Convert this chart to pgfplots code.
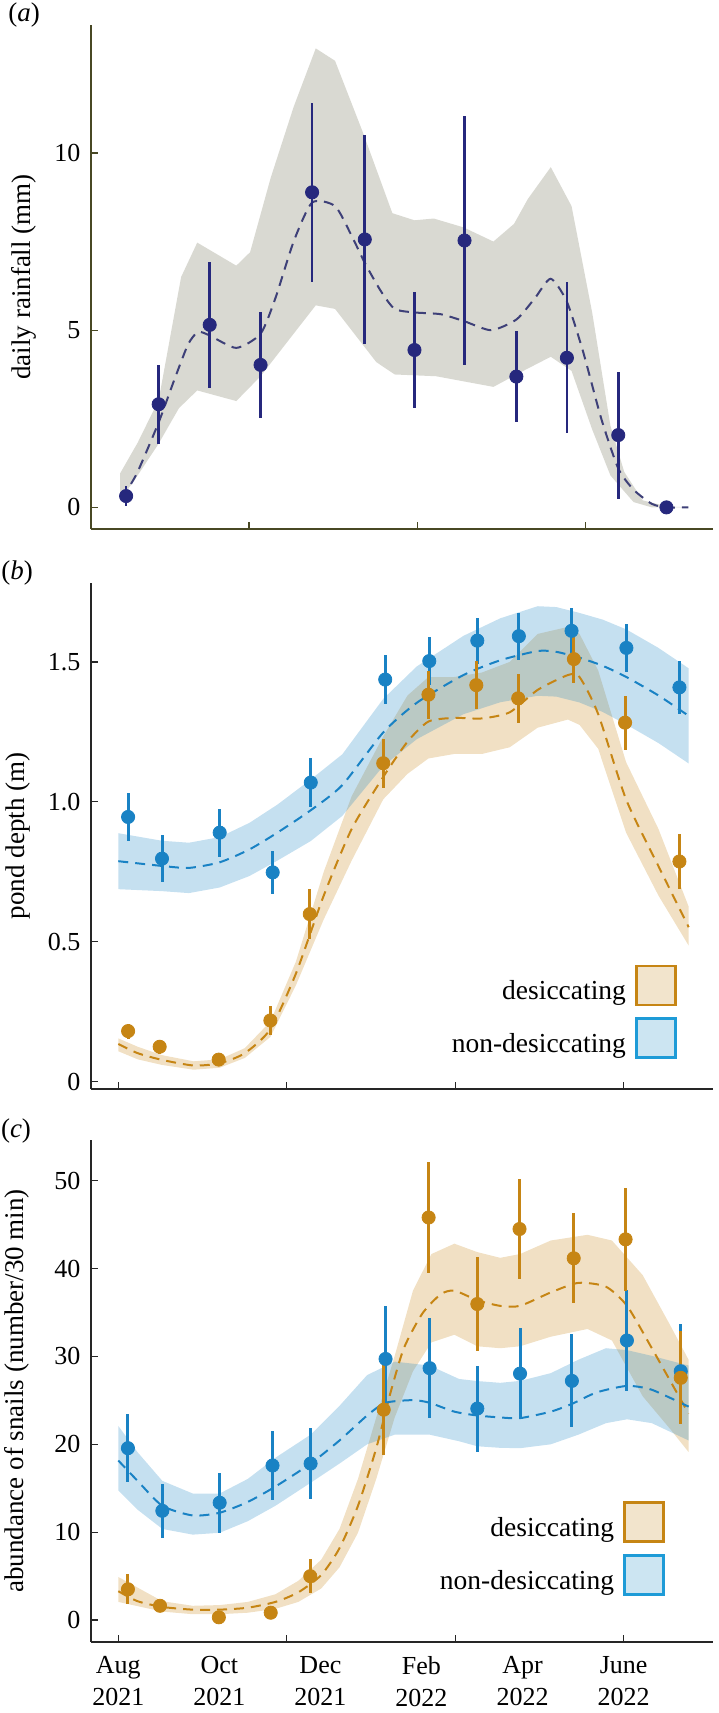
\documentclass[border=0pt]{standalone}
\usepackage{fontspec}
\setmainfont{Liberation Serif}
\usepackage{pgfplots}
\pgfplotsset{compat=1.18}
\usepgfplotslibrary{fillbetween}
\definecolor{navy}{RGB}{38,40,125}
\definecolor{navydash}{RGB}{62,64,120}
\definecolor{bandgray}{RGB}{217,217,210}
\definecolor{olive}{RGB}{72,72,36}
\definecolor{bluec}{RGB}{25,130,196}
\definecolor{brownc}{RGB}{198,133,20}
\definecolor{bluebox}{RGB}{30,155,215}
\definecolor{bluel}{RGB}{204,229,242}
\definecolor{brownl}{RGB}{242,228,204}
\pgfplotsset{
  panel/.style={
    scale only axis, width=311.15pt,
    xmin=-16.6, xmax=357.8,
    axis lines*=left, axis line style={-, line width=0.9pt},
    tick align=inside, major tick length=3.5pt,
    tick style={line width=0.6pt},
    enlargelimits=false,
    ticklabel style={font=\fontsize{13}{16}\selectfont},
    yticklabel style={inner sep=0pt, xshift=-5pt},
    ylabel style={font=\fontsize{13.5}{16}\selectfont, anchor=center, inner sep=0pt},
    /pgf/number format/assume math mode=true,
    legend style={draw=none, fill=none, inner sep=0pt, column sep=4.5pt, row sep=5.5pt,
      font=\fontsize{13.75}{16}\selectfont, nodes={inner sep=0pt}},
    legend cell align=right, legend plot pos=right,
  },
  dsh/.style={dash pattern=on 5pt off 3.5pt, line width=1pt},
  pts/.style={only marks, mark=*, mark size=3.3pt, forget plot,
    error bars/y dir=both, error bars/y explicit, error bars/error mark=none,
    error bars/error bar style={line width=1.5pt}},
}
\begin{document}
\begin{tikzpicture}
\path (0,0) rectangle (359pt,-856.5pt);
\node[font=\fontsize{13.5}{16}\selectfont, inner sep=0pt] at (12pt,-7.5pt) {(\textit{a})};
\node[font=\fontsize{13.5}{16}\selectfont, inner sep=0pt] at (8.5pt,-286.5pt) {(\textit{b})};
\node[font=\fontsize{13.5}{16}\selectfont, inner sep=0pt] at (8pt,-565.5pt) {(\textit{c})};

% ---------------- (a)
\begin{axis}[panel, at={(45.35pt,-264.5pt)}, anchor=south west, height=252pt,
  ymin=-0.61, ymax=13.61,
  axis line style={draw=olive}, tick style={draw=olive},
  xtick={78.6,179.9,281.2}, xticklabels={,,},
  ytick={0,5,10}, yticklabels={0,5,10},
  ylabel={daily rainfall (mm)},
  ylabel style={at={(axis description cs:-0.107,0.5)}}]
\addplot[name path=aU, draw=none, forget plot] coordinates {
(1.1,0.96)(11.6,1.82)(24.3,3.03)(37.8,6.5)(47.5,7.47)(71,6.82)(79.3,7.2)(91.7,9.3)(105.5,11.3)(118.8,12.95)(130.4,12.6)(147,10.6)(164.9,8.3)(178.2,8.1)(189.8,8.15)(207.7,7.9)(225.7,7.5)(238.1,8.0)(246.4,8.7)(260.2,9.6)(272.7,8.5)(285.1,5.5)(296.1,2.3)(304.4,1.0)(315.5,0.2)(329.8,0.03)(343.1,0)};
\addplot[name path=aL, draw=none, forget plot] coordinates {
(1.1,0.2)(11.6,0.9)(24.3,1.8)(36.5,2.8)(47.5,3.3)(71,3.0)(85.6,3.7)(105.5,4.9)(118.8,5.7)(130.4,5.6)(155.2,4.1)(166.3,3.75)(191.2,3.7)(225.7,3.4)(243.6,3.85)(260.2,4.25)(272.7,3.85)(285.1,2.2)(296.1,0.9)(310,0.15)(321,0)(343.1,0)};
\addplot[fill=bandgray, draw=none, forget plot] fill between[of=aU and aL];
\addplot[dsh, navydash, smooth, tension=0.4, forget plot] coordinates {
(1.1,0.3)(4.7,0.45)(11.6,1.0)(24.3,2.4)(33.7,3.6)(42,4.6)(48,4.95)(55,4.85)(71,4.5)(85.6,4.9)(94.5,5.9)(105.5,7.5)(116.6,8.6)(130.4,8.5)(140,7.7)(148.3,6.9)(158,6.1)(166.3,5.6)(178.2,5.5)(194,5.45)(208.3,5.25)(224.3,5.0)(239.5,5.3)(250.6,5.9)(260.2,6.45)(269.9,5.8)(279.6,4.4)(290.6,2.5)(300.8,1.1)(310,0.5)(321,0.1)(329.8,0.0)(343,0.0)};
\addplot[navy, pts, error bars/error bar style={line width=1.3pt}] coordinates {
(4.7,0.32) +- (0,0.28)
(24.3,2.91) +- (0,1.12)
(55,5.15) +- (0,1.78)
(85.6,4.02) +- (0,1.5)
(116.6,8.89) +- (0,2.52)
(148.3,7.56) +- (0,2.94)
(178.2,4.44) +- (0,1.64)
(208.3,7.53) +- (0,3.52)
(239.5,3.69) +- (0,1.28)
(269.9,4.22) +- (0,2.13)
(300.8,2.04) +- (0,1.79)
(329.8,0.0) +- (0,0)};
\end{axis}

% ---------------- (b)
\begin{axis}[panel, at={(45.35pt,-544.5pt)}, anchor=south west, height=253.15pt,
  ymin=-0.026, ymax=1.783,
  axis line style={draw=black!85}, tick style={draw=black!85},
  xtick={0,101.33,202.67,304}, xticklabels={,,,},
  ytick={0,0.5,1.0,1.5}, yticklabels={0,0.5,1.0,1.5},
  ylabel={pond depth (m)},
  ylabel style={at={(axis description cs:-0.117,0.5)}},
  legend style={at={(rel axis cs:0.942,0.059)}, anchor=south east}]
\addplot[name path=bbU, draw=none, forget plot] coordinates {
(0,0.155)(11.7,0.125)(26.3,0.095)(45.3,0.073)(61,0.08)(76.1,0.12)(91.5,0.215)(106.9,0.43)(123.6,0.75)(140.4,1.02)(159.4,1.234)(174,1.38)(186.6,1.446)(202,1.446)(218.7,1.462)(235.5,1.50)(252.3,1.60)(270.5,1.625)(277.5,1.60)(288.7,1.47)(305.5,1.142)(325,0.903)(343.2,0.625)};
\addplot[name path=bbL, draw=none, forget plot] coordinates {
(0,0.109)(11.7,0.08)(26.3,0.06)(45.3,0.043)(61,0.05)(76.1,0.085)(91.5,0.16)(106.9,0.345)(123.6,0.58)(140.4,0.79)(159.4,1.009)(174,1.10)(186.6,1.155)(202,1.171)(218.7,1.171)(235.5,1.195)(252.3,1.265)(270.5,1.294)(277.5,1.275)(288.7,1.19)(305.5,0.89)(325,0.665)(343.2,0.486)};
\addplot[fill=brownc, fill opacity=0.25, draw=none, forget plot] fill between[of=bbU and bbL];
\addplot[name path=blU, draw=none, forget plot] coordinates {
(0,0.888)(26.3,0.861)(42.5,0.854)(61,0.874)(78.9,0.925)(95.7,0.99)(115.8,1.08)(134.8,1.17)(159.4,1.368)(179.6,1.484)(207.6,1.593)(229.9,1.656)(252.3,1.699)(263.5,1.696)(277.5,1.675)(291.5,1.651)(305.7,1.616)(325,1.55)(343.2,1.477)};
\addplot[name path=blL, draw=none, forget plot] coordinates {
(0,0.688)(26.3,0.681)(42.5,0.674)(61,0.694)(78.9,0.735)(95.7,0.79)(115.8,0.86)(134.8,0.95)(159.4,1.128)(179.6,1.224)(207.6,1.313)(229.9,1.356)(252.3,1.379)(263.5,1.376)(277.5,1.355)(291.5,1.321)(305.7,1.276)(325,1.21)(343.2,1.137)};
\addplot[fill=bluec, fill opacity=0.25, draw=none, forget plot] fill between[of=blU and blL];
\addplot[dsh, brownc, smooth, tension=0.4, forget plot] coordinates {
(0,0.135)(11.7,0.102)(26.3,0.078)(45.3,0.058)(61,0.066)(76.1,0.102)(91.5,0.188)(106.9,0.387)(123.6,0.665)(140.4,0.903)(159.4,1.089)(174,1.215)(186.6,1.287)(202,1.30)(218.7,1.298)(235.5,1.32)(252.3,1.40)(270.5,1.453)(277.5,1.446)(288.7,1.314)(305.5,1.009)(325,0.77)(343.2,0.552)};
\addplot[dsh, bluec, smooth, tension=0.4, forget plot] coordinates {
(0,0.788)(26.3,0.771)(42.5,0.764)(61,0.784)(78.9,0.83)(95.7,0.89)(115.8,0.97)(134.8,1.06)(159.4,1.248)(179.6,1.354)(207.6,1.453)(229.9,1.506)(252.3,1.539)(263.5,1.536)(277.5,1.515)(291.5,1.486)(305.7,1.446)(325,1.38)(343.2,1.307)};
\addplot[bluec, pts] coordinates {
(5.9,0.946) +- (0,0.086)
(26.3,0.797) +- (0,0.083)
(61,0.89) +- (0,0.086)
(92.9,0.748) +- (0,0.078)
(115.8,1.069) +- (0,0.088)
(160.6,1.437) +- (0,0.088)
(187.1,1.503) +- (0,0.086)
(216,1.576) +- (0,0.082)
(241,1.592) +- (0,0.084)
(272.7,1.611) +- (0,0.08)
(305.7,1.55) +- (0,0.087)
(337.6,1.409) +- (0,0.094)};
\addplot[brownc, pts] coordinates {
(5.9,0.181) +- (0,0.027)
(24.9,0.125) +- (0,0.025)
(60.4,0.079) +- (0,0.01)
(91.5,0.219) +- (0,0.051)
(115.2,0.599) +- (0,0.088)
(159.4,1.138) +- (0,0.088)
(186.6,1.383) +- (0,0.086)
(215.4,1.417) +- (0,0.086)
(240.6,1.37) +- (0,0.087)
(274.1,1.51) +- (0,0.085)
(304.9,1.283) +- (0,0.097)
(337.6,0.787) +- (0,0.099)};
\addlegendimage{legend image code/.code={\draw[line width=1.3pt, draw=brownc, fill=brownl] (0pt,-6.5pt) rectangle (19.5pt,13pt);}}
\addlegendentry{desiccating}
\addlegendimage{legend image code/.code={\draw[line width=1.3pt, draw=bluebox, fill=bluel] (0pt,-6.5pt) rectangle (19.5pt,13pt);}}
\addlegendentry{non-desiccating}
\end{axis}

% ---------------- (c)
\begin{axis}[panel, at={(45.35pt,-820.85pt)}, anchor=south west, height=250.85pt,
  ymin=-2.47, ymax=54.64,
  axis line style={draw=black!85}, tick style={draw=black!85},
  xtick={0,101.33,202.67,304}, xticklabels={,,,},
  extra x ticks={0,60.8,121.6,182.4,243.2,304},
  extra x tick labels={{Aug\\2021},{Oct\\2021},{Dec\\2021},{Feb\\2022},{Apr\\2022},{June\\2022}},
  extra x tick style={major tick length=0pt, tick label style={align=center, inner sep=0pt, yshift=-7pt}},
  ytick={0,10,20,30,40,50}, yticklabels={0,10,20,30,40,50},
  ylabel={abundance of snails (number/30 min)},
  ylabel style={at={(axis description cs:-0.118,0.5)}},
  legend style={at={(rel axis cs:0.923,0.091)}, anchor=south east}]
\addplot[name path=cbU, draw=none, forget plot] coordinates {
(0,4.9)(26.5,2.14)(44.8,1.62)(61,1.7)(77.9,2.06)(94.5,2.93)(108.3,4.46)(122.1,6.87)(133.1,10.37)(144.2,16.06)(155.2,23.06)(166.3,30.07)(177.3,37.5)(188.4,41.66)(202.2,42.84)(216,41.88)(229.8,41.23)(241.7,41.66)(260.2,43.2)(282.3,43.85)(297,43.2)(315.5,39.26)(332,33.57)(343.1,29.63)};
\addplot[name path=cbL, draw=none, forget plot] coordinates {
(0,2.06)(26.5,0.96)(44.8,0.66)(61,0.66)(77.9,0.83)(94.5,1.27)(108.3,2.06)(122.1,3.59)(133.1,6.0)(144.2,9.93)(155.2,16.06)(166.3,23.06)(177.3,28.32)(188.4,31.6)(202.2,32.47)(216,31.16)(229.8,30.94)(241.7,31.16)(260.2,32.25)(282.3,33.13)(297,31.82)(315.5,25.47)(332,21.75)(343.1,19.12)};
\addplot[fill=brownc, fill opacity=0.25, draw=none, forget plot] fill between[of=cbU and cbL];
\addplot[name path=clU, draw=none, forget plot] coordinates {
(0,22.1)(11.6,19.1)(26.5,15.84)(44.8,14.4)(61,14.4)(77.9,16.06)(94.5,18.47)(115.7,21.1)(133.1,24.38)(149.7,27.88)(166.3,29.41)(187.3,28.97)(205,27.44)(216,27.2)(229.8,27.0)(241.7,27.22)(260.2,28.1)(276.8,29.63)(293.4,30.94)(306.1,30.72)(321,30.07)(343.1,28.97)};
\addplot[name path=clL, draw=none, forget plot] coordinates {
(0,14.75)(11.6,12.56)(26.5,10.37)(44.8,9.72)(61,9.93)(77.9,11.25)(94.5,13.0)(115.7,15.62)(133.1,17.81)(149.7,20.0)(166.3,21.1)(187.3,21.1)(205,20.35)(216,19.78)(229.8,19.6)(241.7,19.56)(260.2,20.0)(276.8,21.1)(293.4,22.41)(306.1,22.85)(321,22.41)(343.1,20.44)};
\addplot[fill=bluec, fill opacity=0.25, draw=none, forget plot] fill between[of=clU and clL];
\addplot[dsh, brownc, smooth, tension=0.4, forget plot] coordinates {
(0,3.28)(11.6,2.14)(26.5,1.49)(44.8,1.18)(61,1.18)(77.9,1.4)(94.5,2.06)(108.3,3.15)(122.1,5.12)(133.1,8.18)(144.2,13.0)(155.2,19.56)(163.5,25.69)(171.8,30.94)(182.9,34.88)(193.9,37.07)(202.2,37.5)(216,36.4)(229.8,35.76)(241.7,35.76)(260.2,37.29)(276.8,38.38)(293.4,37.94)(306.1,35.76)(321,30.94)(343.1,23.5)};
\addplot[dsh, bluec, smooth, tension=0.4, forget plot] coordinates {
(0,18.16)(11.6,15.84)(26.5,13.0)(44.8,11.9)(61,12.21)(77.9,13.44)(94.5,15.19)(115.7,17.81)(133.1,20.44)(149.7,23.28)(160.8,24.73)(177.3,25.03)(187.3,24.73)(202.2,23.72)(216,23.28)(229.8,23.06)(241.7,22.98)(260.2,23.72)(272.9,24.6)(287.8,25.91)(306.1,26.65)(321,26.21)(343.1,24.29)};
\addplot[bluec, pts] coordinates {
(5.8,19.56) +- (0,3.85)
(26.5,12.43) +- (0,3.07)
(61,13.35) +- (0,3.4)
(92.8,17.59) +- (0,3.94)
(115.7,17.81) +- (0,4.06)
(160.8,29.72) +- (0,6.0)
(187.3,28.67) +- (0,5.7)
(216,24.07) +- (0,4.9)
(241.7,28.05) +- (0,5.2)
(272.9,27.22) +- (0,5.3)
(306,31.82) +- (0,5.8)
(338.4,28.32) +- (0,5.4)};
\addplot[brownc, pts] coordinates {
(5.8,3.5) +- (0,1.7)
(25.1,1.62) +- (0,0.66)
(60.5,0.31) +- (0,0)
(91.7,0.83) +- (0,0)
(115.5,4.99) +- (0,1.93)
(159.7,23.94) +- (0,5.2)
(186.7,45.82) +- (0,6.3)
(216,35.97) +- (0,5.4)
(241.4,44.51) +- (0,5.7)
(274,41.18) +- (0,5.1)
(305.2,43.33) +- (0,5.9)
(338.4,27.57) +- (0,5.3)};
\addlegendimage{legend image code/.code={\draw[line width=1.3pt, draw=brownc, fill=brownl] (0pt,-6.5pt) rectangle (19.5pt,13pt);}}
\addlegendentry{desiccating}
\addlegendimage{legend image code/.code={\draw[line width=1.3pt, draw=bluebox, fill=bluel] (0pt,-6.5pt) rectangle (19.5pt,13pt);}}
\addlegendentry{non-desiccating}
\end{axis}
\end{tikzpicture}
\end{document}
